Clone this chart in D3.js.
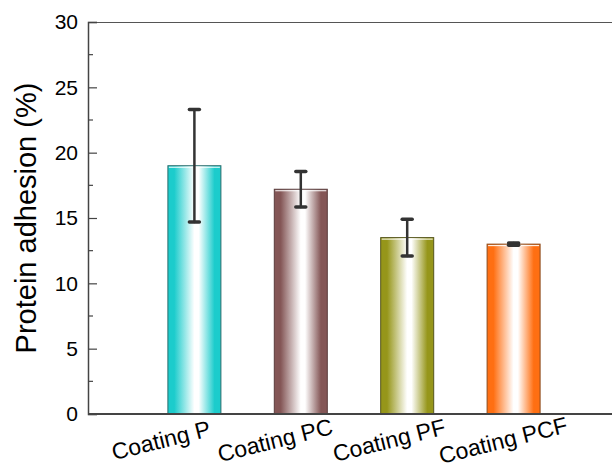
<!DOCTYPE html>
<html>
<head>
<meta charset="utf-8">
<script src="https://cdn.jsdelivr.net/npm/d3@7/dist/d3.min.js"></script>
<style>
  html, body { margin: 0; padding: 0; background: #fff; }
  svg { display: block; }
</style>
</head>
<body>
<svg id="chart" width="612" height="469"></svg>
<script>
// Protein adhesion of the four coatings (mean ± SD)
const categories = ["Coating P", "Coating PC", "Coating PF", "Coating PCF"];
const means = [19.0, 17.2, 13.5, 13.0];
const errors = [4.3, 1.35, 1.4, 0.08];
const barColors = ["#1ccccc", "#845656", "#96961a", "#ff6f12"];
const edgeColors = ["#2a6b6b", "#5a3d3d", "#55551c", "#8a4a1c"];
const yTicks = [0, 5, 10, 15, 20, 25, 30];

const svg = d3.select("#chart");
const margin = { left: 88, top: 22, bottom: 414 };
const font = "Liberation Sans, Arial, sans-serif";

// categories sit at positions 1..4 on a 0..5 axis
const x = d3.scaleLinear().domain([0, 5]).range([margin.left, 620]);
const y = d3.scaleLinear().domain([0, 30]).range([margin.bottom, margin.top]);
// tilted labels are spread a little wider than the bars
const xLabel = d3.scalePoint().domain(categories).range([163, 505]);
const barW = 53;

const defs = svg.append("defs");
barColors.forEach((c, i) => {
  const g = defs.append("linearGradient")
    .attr("id", "grad" + i)
    .attr("x1", "0%").attr("x2", "100%").attr("y1", "0%").attr("y2", "0%");
  g.append("stop").attr("offset", "0%").attr("stop-color", c);
  g.append("stop").attr("offset", "12%").attr("stop-color", c);
  g.append("stop").attr("offset", "50%").attr("stop-color", "#ffffff");
  g.append("stop").attr("offset", "58%").attr("stop-color", "#ffffff");
  g.append("stop").attr("offset", "88%").attr("stop-color", c);
  g.append("stop").attr("offset", "100%").attr("stop-color", c);
});

// top border
svg.append("line")
  .attr("x1", margin.left).attr("x2", 612)
  .attr("y1", margin.top + 0.5).attr("y2", margin.top + 0.5)
  .attr("stroke", "#555").attr("stroke-width", 1);

// bars
const bars = svg.append("g");
categories.forEach((cat, i) => {
  const cx = x(i + 1);
  bars.append("rect")
    .attr("x", cx - barW / 2)
    .attr("y", y(means[i]))
    .attr("width", barW)
    .attr("height", y(0) - y(means[i]))
    .attr("fill", `url(#grad${i})`)
    .attr("stroke", edgeColors[i])
    .attr("stroke-width", 1);
  // thin highlight below the bar top
  bars.append("line")
    .attr("x1", cx - barW / 2 + 1).attr("x2", cx + barW / 2 - 1)
    .attr("y1", y(means[i]) + 1.5).attr("y2", y(means[i]) + 1.5)
    .attr("stroke", "#ffffff").attr("stroke-width", 1);
});

// error bars
const err = svg.append("g").attr("stroke", "#333").attr("stroke-linecap", "round");
categories.forEach((cat, i) => {
  const cx = x(i + 1);
  const hi = y(means[i] + errors[i]);
  const lo = y(means[i] - errors[i]);
  err.append("line").attr("x1", cx).attr("x2", cx).attr("y1", hi).attr("y2", lo)
    .attr("stroke-width", 2.5);
  [hi, lo].forEach(v => {
    err.append("line").attr("x1", cx - 5).attr("x2", cx + 5).attr("y1", v).attr("y2", v)
      .attr("stroke-width", 3.5);
  });
});

// y axis with inward ticks
const yAxis = d3.axisLeft(y).tickValues(yTicks).tickSize(-9).tickPadding(10)
  .tickFormat(d3.format("d"));
const yg = svg.append("g").attr("transform", `translate(${margin.left},0)`).call(yAxis);
yg.select(".domain").attr("stroke", "#444").attr("stroke-width", 1.5);
yg.selectAll(".tick line").attr("stroke", "#444").attr("stroke-width", 1.2);
yg.selectAll(".tick text")
  .attr("font-family", font)
  .attr("font-size", 21).attr("fill", "#000");

// minor ticks
const minor = d3.range(2.5, 30, 5);
yg.selectAll(".minor").data(minor).enter().append("line")
  .attr("x1", 0).attr("x2", 5)
  .attr("y1", d => y(d)).attr("y2", d => y(d))
  .attr("stroke", "#444").attr("stroke-width", 1.2);

// bottom axis line
svg.append("line")
  .attr("x1", margin.left).attr("x2", 612)
  .attr("y1", margin.bottom).attr("y2", margin.bottom)
  .attr("stroke", "#444").attr("stroke-width", 1.8);

// category labels, tilted
svg.append("g").selectAll("text").data(categories).enter().append("text")
  .attr("transform", d => `translate(${xLabel(d)},448) rotate(-14)`)
  .attr("text-anchor", "middle")
  .attr("font-family", font)
  .attr("font-size", 23)
  .attr("fill", "#000")
  .text(d => d);

// y axis title
svg.append("text")
  .attr("transform", `translate(36,218) rotate(-90)`)
  .attr("text-anchor", "middle")
  .attr("font-family", font)
  .attr("font-size", 29)
  .attr("fill", "#000")
  .text("Protein adhesion (%)");
</script>
</body>
</html>
